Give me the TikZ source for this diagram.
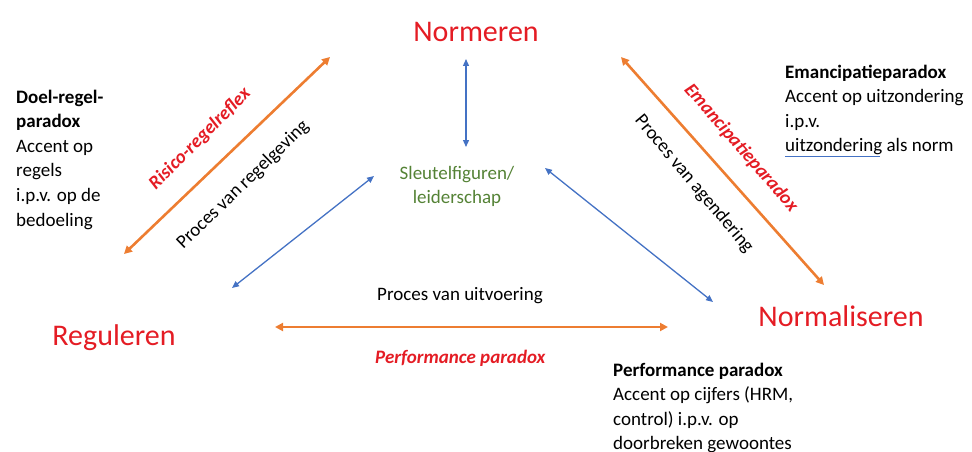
\documentclass[tikz,border=0pt]{standalone}
\usepackage{fontspec}
\setmainfont{Carlito}
\usetikzlibrary{arrows.meta}
\definecolor{tred}{RGB}{228,28,36}
\definecolor{torange}{RGB}{237,125,49}
\definecolor{tblue}{RGB}{68,114,196}
\definecolor{tgreen}{RGB}{84,130,53}
\tikzset{
  orangearrow/.style={draw=torange, line width=2.6pt,
    {Triangle[length=8pt,width=8pt]}-{Triangle[length=8pt,width=8pt]}},
  bluearrow/.style={draw=tblue, line width=1.3pt,
    {Triangle[length=7pt,width=6pt]}-{Triangle[length=7pt,width=6pt]}},
  pole/.style={text=tred, inner sep=0pt, font=\fontsize{30}{36}\selectfont},
  bodytext/.style={inner sep=0pt, align=left, font=\fontsize{19}{24.6}\selectfont},
  proclabel/.style={inner sep=0pt, font=\fontsize{19}{23}\selectfont},
  paradoxlabel/.style={inner sep=0pt, text=tred, font=\fontsize{19}{23}\selectfont\bfseries\itshape},
}
\begin{document}
\begin{tikzpicture}[x=1pt,y=-1pt]
\useasboundingbox (0,0) rectangle (972,452);
% poles
\node[pole] (normeren) at (476,32) {Normeren};
\node[pole] (reguleren) at (114,338) {Reguleren};
\node[pole] (normaliseren) at (841,316) {Normaliseren};
\node[inner sep=0pt, align=center, text=tgreen, font=\fontsize{19}{24}\selectfont] (sleutel) at (457,186) {Sleutelfiguren/\\leiderschap};
% arrow end points
\coordinate (bv1) at (466,59);
\coordinate (bv2) at (466,147);
\coordinate (bl1) at (374,176);
\coordinate (bl2) at (232,288);
\coordinate (br1) at (545,168);
\coordinate (br2) at (713,302);
\coordinate (ol1) at (330,57);
\coordinate (ol2) at (124,254);
\coordinate (or1) at (621,57);
\coordinate (or2) at (824,285);
\coordinate (ob1) at (275,327);
\coordinate (ob2) at (668,327);
% arrows
\draw[bluearrow] (bv1) -- (bv2);
\draw[bluearrow] (bl1) -- (bl2);
\draw[bluearrow] (br1) -- (br2);
\draw[orangearrow] (ol1) -- (ol2);
\draw[orangearrow] (or1) -- (or2);
\draw[orangearrow] (ob1) -- (ob2);
% labels along arrows
\node[paradoxlabel, rotate=45] (risico) at (200,139) {Risico-regelreflex};
\node[proclabel, rotate=44] (regelgeving) at (243,185) {Proces van regelgeving};
\node[paradoxlabel, rotate=-49] (emancip) at (741,148) {Emancipatieparadox};
\node[proclabel, rotate=-50] (agendering) at (694,184) {Proces van agendering};
\node[proclabel, anchor=west] (uitvoering) at (377,296) {Proces van uitvoering};
\node[paradoxlabel, anchor=west] (performance) at (375,358) {Performance paradox};
% text blocks
\node[bodytext, anchor=north west] (doelregel) at (16,89.5) {\textbf{Doel-regel-}\\\textbf{paradox}\\Accent op\\regels\\i.p.v. op de\\bedoeling};
\node[bodytext, anchor=north west] (emancblock) at (785,64.5) {\textbf{Emancipatieparadox}\\Accent op uitzondering\\i.p.v.\\uitzondering als norm};
\node[bodytext, anchor=north west] (perfblock) at (613,362.5) {\textbf{Performance paradox}\\Accent op cijfers (HRM,\\control) i.p.v. op\\doorbreken gewoontes};
\coordinate (ul1) at (785,156);
\coordinate (ul2) at (880,156);
\draw[tblue, line width=1pt] (ul1) -- (ul2);
\end{tikzpicture}
\end{document}
